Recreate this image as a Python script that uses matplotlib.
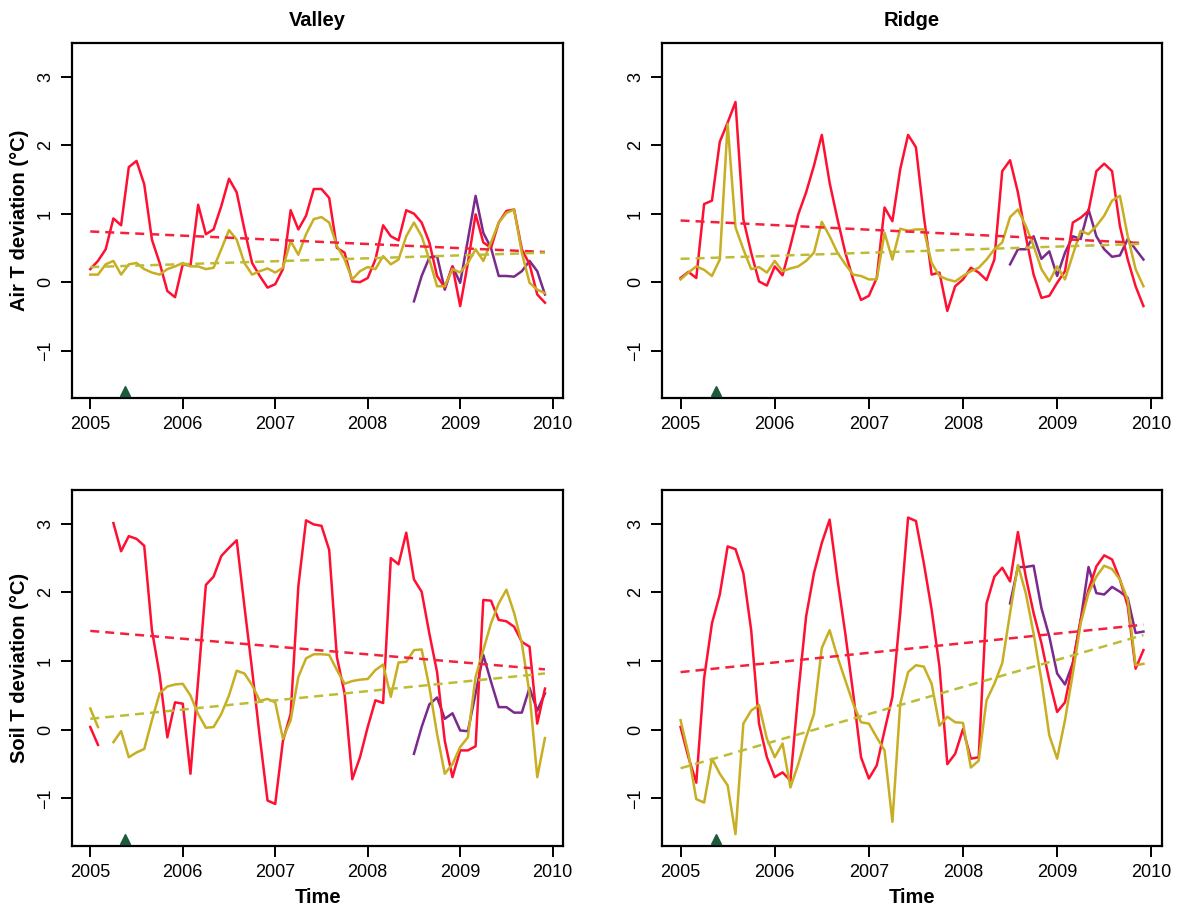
import numpy as np
import matplotlib
matplotlib.use("Agg")
import matplotlib.pyplot as plt

plt.rcParams['font.family'] = ['Liberation Sans', 'DejaVu Sans']

nan = np.nan

# monthly time axis, Jan 2005 .. Dec 2009
months = np.arange(60)
time = 2005 + months / 12.0

# Valley, air temperature deviation
valley_air_red = [0.19, 0.31, 0.48, 0.93, 0.83, 1.68, 1.77, 1.43, 0.62, 0.28,
                  -0.13, -0.22, 0.26, 0.24, 1.13, 0.70, 0.77, 1.11, 1.51, 1.31,
                  0.77, 0.28, 0.09, -0.08, -0.03, 0.19, 1.05, 0.77, 0.97, 1.36,
                  1.36, 1.23, 0.50, 0.43, 0.01, 0.00, 0.06, 0.33, 0.83, 0.67,
                  0.61, 1.05, 1.00, 0.87, 0.58, 0.09, -0.08, 0.23, -0.35, 0.28,
                  0.99, 0.58, 0.50, 0.87, 1.04, 1.06, 0.48, 0.26, -0.18, -0.30]
valley_air_yellow = [0.11, 0.11, 0.26, 0.31, 0.11, 0.26, 0.28, 0.19, 0.14, 0.11,
                     0.19, 0.23, 0.28, 0.23, 0.23, 0.19, 0.21, 0.48, 0.76, 0.62,
                     0.28, 0.11, 0.16, 0.20, 0.14, 0.21, 0.60, 0.40, 0.70, 0.92,
                     0.95, 0.87, 0.53, 0.33, 0.04, 0.16, 0.22, 0.19, 0.38, 0.26,
                     0.33, 0.67, 0.87, 0.67, 0.33, -0.06, -0.06, 0.19, 0.14, 0.28,
                     0.48, 0.31, 0.58, 0.87, 1.01, 1.06, 0.43, -0.01, -0.11, -0.16]
valley_air_purple = [nan] * 42 + [-0.28, 0.09, 0.36, 0.38, -0.11, 0.23, -0.01, 0.62,
                                  1.26, 0.72, 0.50, 0.09, 0.09, 0.08, 0.16, 0.31,
                                  0.16, -0.18]

# Ridge, air temperature deviation
ridge_air_red = [0.06, 0.15, 0.06, 1.14, 1.19, 2.05, 2.33, 2.63, 0.92, 0.43,
                 0.01, -0.05, 0.23, 0.10, 0.53, 0.99, 1.31, 1.70, 2.15, 1.45,
                 0.92, 0.43, 0.04, -0.26, -0.20, 0.06, 1.09, 0.89, 1.65, 2.15,
                 1.97, 0.97, 0.11, 0.14, -0.42, -0.06, 0.04, 0.21, 0.14, 0.03,
                 0.33, 1.62, 1.78, 1.31, 0.67, 0.11, -0.23, -0.20, -0.01, 0.16,
                 0.87, 0.94, 1.04, 1.62, 1.73, 1.62, 0.82, 0.33, -0.06, -0.35]
ridge_air_yellow = [0.04, 0.14, 0.23, 0.18, 0.09, 0.33, 2.31, 0.80, 0.48, 0.19,
                    0.22, 0.14, 0.31, 0.16, 0.20, 0.23, 0.31, 0.43, 0.88, 0.67,
                    0.43, 0.26, 0.11, 0.09, 0.04, 0.04, 0.72, 0.33, 0.78, 0.75,
                    0.77, 0.77, 0.28, 0.09, 0.04, 0.01, 0.09, 0.16, 0.21, 0.33,
                    0.48, 0.58, 0.95, 1.06, 0.82, 0.53, 0.19, 0.01, 0.23, 0.04,
                    0.40, 0.75, 0.70, 0.82, 0.97, 1.19, 1.26, 0.67, 0.19, -0.06]
ridge_air_purple = [nan] * 42 + [0.26, 0.48, 0.48, 0.67, 0.34, 0.45, 0.09, 0.43,
                                 0.67, 0.63, 1.06, 0.67, 0.48, 0.37, 0.39, 0.63,
                                 0.48, 0.33]

# Valley, soil temperature deviation
valley_soil_red = [0.04, -0.22, nan, 3.01, 2.60, 2.82, 2.78, 2.68, 1.45, 0.80,
                   -0.11, 0.40, 0.38, -0.64, 0.72, 2.11, 2.23, 2.53, 2.65, 2.76,
                   1.80, 0.87, -0.11, -1.03, -1.08, -0.16, 0.23, 2.09, 3.05, 2.99,
                   2.97, 2.62, 1.06, 0.53, -0.72, -0.40, 0.04, 0.43, 0.39, 2.50,
                   2.41, 2.87, 2.19, 2.01, 1.40, 0.84, -0.16, -0.69, -0.30, -0.30,
                   -0.24, 1.89, 1.88, 1.60, 1.58, 1.50, 1.28, 1.21, 0.09, 0.60]
valley_soil_yellow = [0.31, 0.04, nan, -0.18, -0.02, -0.40, -0.33, -0.28, 0.14, 0.53,
                      0.63, 0.66, 0.67, 0.50, 0.23, 0.03, 0.04, 0.23, 0.50, 0.86,
                      0.82, 0.65, 0.42, 0.45, 0.40, -0.13, 0.14, 0.77, 1.04, 1.10,
                      1.10, 1.09, 0.87, 0.67, 0.71, 0.73, 0.74, 0.87, 0.95, 0.48,
                      0.98, 0.99, 1.16, 1.17, 0.62, -0.06, -0.64, -0.50, -0.25, -0.11,
                      0.77, 1.16, 1.55, 1.84, 2.04, 1.70, 1.26, 0.53, -0.69, -0.12]
valley_soil_purple = [nan] * 42 + [-0.35, 0.04, 0.37, 0.47, 0.16, 0.24, -0.01, -0.02,
                                   0.53, 1.09, 0.70, 0.33, 0.33, 0.25, 0.25, 0.61,
                                   0.28, 0.53]

# Ridge, soil temperature deviation
ridge_soil_red = [0.04, -0.40, -0.77, 0.75, 1.55, 1.97, 2.67, 2.63, 2.28, 1.45,
                  0.09, -0.40, -0.69, -0.62, -0.74, 0.53, 1.65, 2.28, 2.72, 3.06,
                  2.19, 1.40, 0.53, -0.40, -0.71, -0.52, -0.01, 0.48, 1.70, 3.09,
                  3.04, 2.43, 1.75, 0.92, -0.50, -0.35, 0.01, -0.42, -0.40, 1.84,
                  2.23, 2.36, 2.16, 2.88, 2.23, 1.70, 1.26, 0.72, 0.26, 0.40,
                  0.97, 1.60, 2.04, 2.38, 2.54, 2.48, 2.19, 1.80, 0.89, 1.16]
ridge_soil_yellow = [0.14, -0.35, -1.01, -1.06, -0.42, -0.64, -0.81, -1.52, 0.09, 0.28,
                     0.36, -0.13, -0.40, -0.20, -0.84, -0.50, -0.11, 0.23, 1.19, 1.45,
                     1.06, 0.72, 0.38, 0.11, 0.09, -0.11, -0.30, -1.34, 0.38, 0.84,
                     0.94, 0.92, 0.67, 0.06, 0.19, 0.11, 0.10, -0.55, -0.45, 0.43,
                     0.67, 0.97, 1.70, 2.40, 1.99, 1.40, 0.72, -0.08, -0.42, 0.14,
                     0.82, 1.55, 1.99, 2.23, 2.39, 2.34, 2.19, 1.89, 0.94, 0.96]
ridge_soil_purple = [nan] * 42 + [1.84, 2.37, 2.37, 2.39, 1.77, 1.36, 0.82, 0.66,
                                  0.97, 1.60, 2.37, 1.99, 1.97, 2.08, 2.01, 1.92,
                                  1.41, 1.43]

# trend lines (start, end)
trend_red = {
    'va': (0.74, 0.44), 'ra': (0.90, 0.57),
    'vs': (1.44, 0.88), 'rs': (0.84, 1.53),
}
trend_yellow = {
    'va': (0.22, 0.43), 'ra': (0.34, 0.56),
    'vs': (0.16, 0.82), 'rs': (-0.56, 1.38),
}

event_time = 2005.375
event_y = -1.59

RED = '#ff1033'
YELLOW = '#c8ae22'
PURPLE = '#7a2a8c'
RED_D = '#f5203c'
YELLOW_D = '#bcbc36'
GREEN = '#1d5a3c'

panels = [
    ('va', valley_air_red, valley_air_yellow, valley_air_purple),
    ('ra', ridge_air_red, ridge_air_yellow, ridge_air_purple),
    ('vs', valley_soil_red, valley_soil_yellow, valley_soil_purple),
    ('rs', ridge_soil_red, ridge_soil_yellow, ridge_soil_purple),
]

positions = {
    'va': [0.0603, 0.5602, 0.4110, 0.3923],
    'ra': [0.5540, 0.5602, 0.4184, 0.3923],
    'vs': [0.0603, 0.0652, 0.4110, 0.3934],
    'rs': [0.5540, 0.0652, 0.4184, 0.3934],
}

fig = plt.figure(figsize=(11.95, 9.05), dpi=100)

for key, red, yellow, purple in panels:
    ax = fig.add_axes(positions[key])
    ax.plot(time, red, color=RED, lw=1.8, zorder=3)
    ax.plot(time, yellow, color=YELLOW, lw=1.8, zorder=4)
    ax.plot(time, purple, color=PURPLE, lw=1.8, zorder=2)
    t_ends = [time[0], time[-1]]
    ax.plot(t_ends, trend_red[key], color=RED_D, lw=1.8, dashes=(3.6, 2.4), zorder=5)
    ax.plot(t_ends, trend_yellow[key], color=YELLOW_D, lw=1.8, dashes=(3.6, 2.4), zorder=5)
    ax.plot([event_time], [event_y], marker='^', color=GREEN, markersize=7, zorder=6)

    ax.set_xlim(2004.803, 2010.114)
    ax.set_ylim(-1.692, 3.492)
    ax.set_xticks([2005, 2006, 2007, 2008, 2009, 2010])
    ax.set_yticks([-1, 0, 1, 2, 3])
    ax.tick_params(direction='out', length=8, width=1.4, labelsize=13, pad=5)
    ax.tick_params(axis='y', labelrotation=90)
    for lab in ax.get_yticklabels():
        lab.set_verticalalignment('center')
    for s in ax.spines.values():
        s.set_linewidth(1.6)

    if key == 'va':
        ax.set_title('Valley', fontsize=14.5, fontweight='bold', pad=12)
        ax.set_ylabel('Air T deviation (°C)', fontsize=14.5, fontweight='bold', labelpad=6)
    if key == 'ra':
        ax.set_title('Ridge', fontsize=14.5, fontweight='bold', pad=12)
    if key == 'vs':
        ax.set_ylabel('Soil T deviation (°C)', fontsize=14.5, fontweight='bold', labelpad=6)
    if key in ('vs', 'rs'):
        ax.set_xlabel('Time', fontsize=14.5, fontweight='bold', labelpad=5)

fig.savefig('out.png', dpi=100)
